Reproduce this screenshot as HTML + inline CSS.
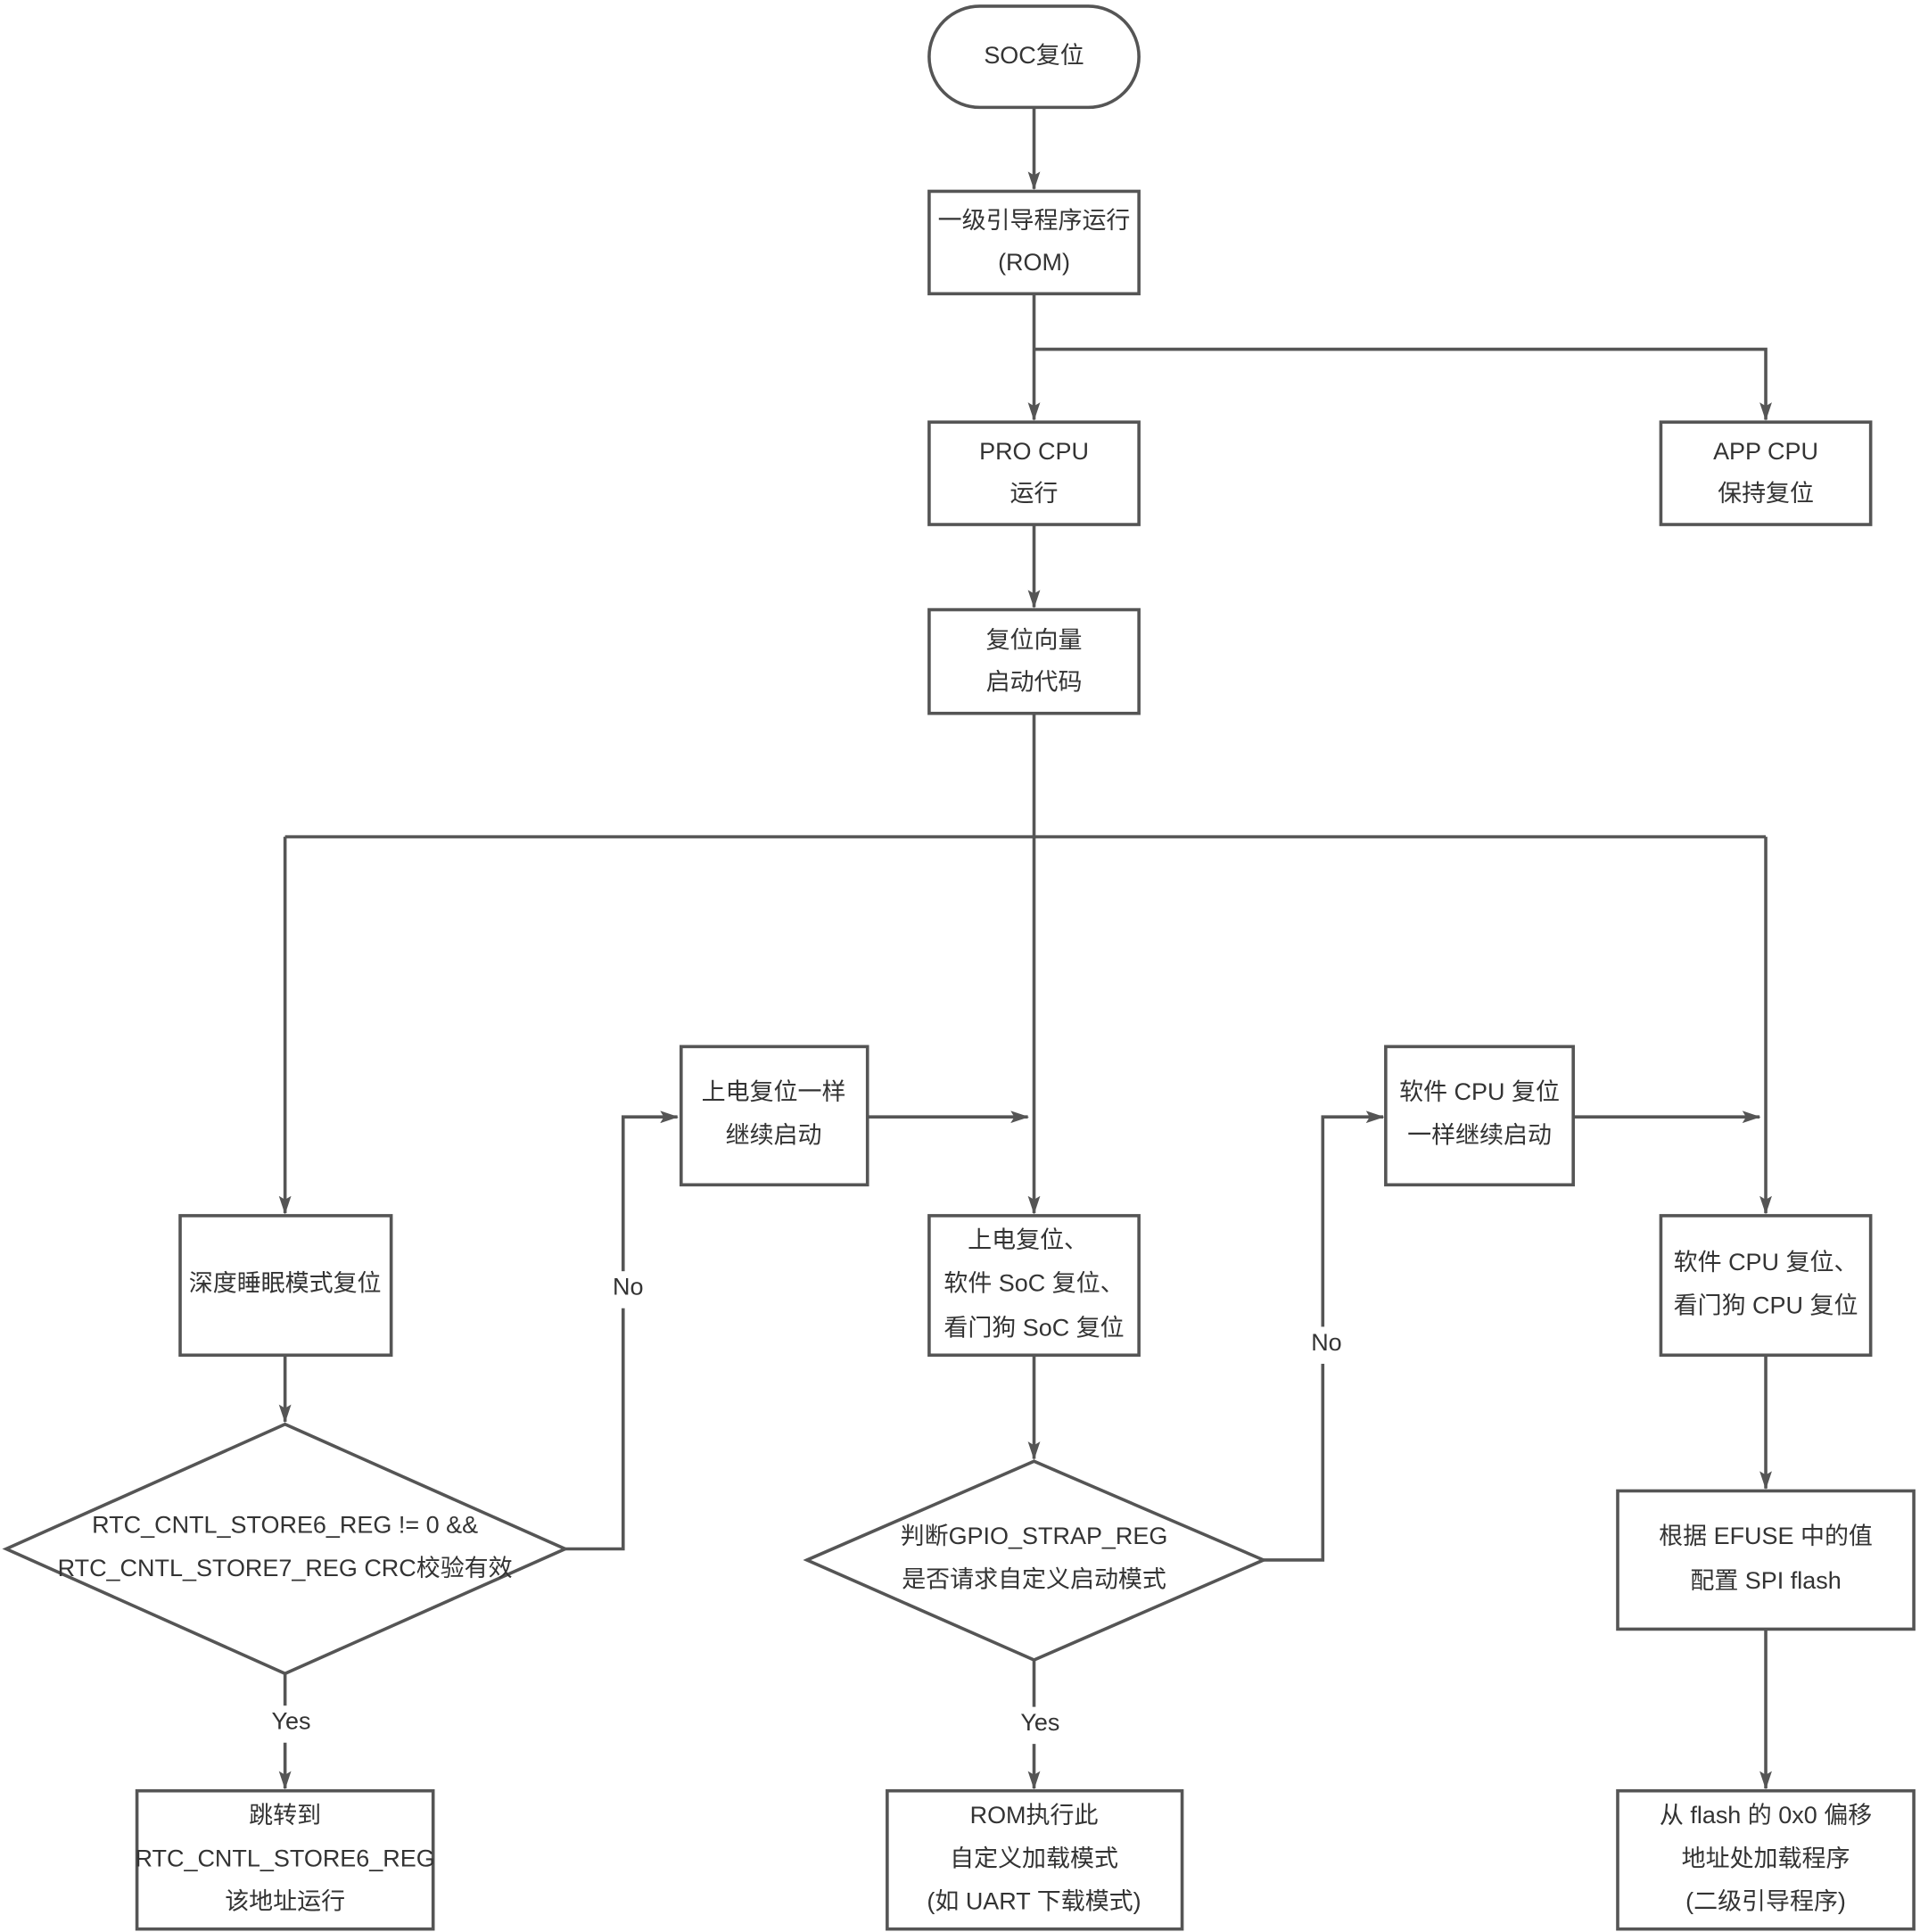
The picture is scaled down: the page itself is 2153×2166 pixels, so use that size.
<!DOCTYPE html>
<html><head><meta charset="utf-8"><style>
html,body{margin:0;padding:0;background:#fff;}
svg{display:block;}
text{font-family:"Liberation Sans","Noto Sans CJK SC",sans-serif;font-size:19.5px;fill:#333;text-anchor:middle;dominant-baseline:middle;}
.s{fill:none;stroke:#555;stroke-width:2.6;}
.b{fill:#fff;stroke:#555;stroke-width:2.6;}
</style></head><body>
<svg width="2153" height="2166" viewBox="0 0 1556 1565.4" xmlns="http://www.w3.org/2000/svg">
<defs><marker id="a" markerWidth="16" markerHeight="12" refX="14" refY="5" orient="auto" markerUnits="userSpaceOnUse"><path d="M0,0 L15,5 L0,10 L3,5 z" fill="#555"/></marker></defs>

<!-- connectors -->
<path class="s" d="M838,87 V153" marker-end="url(#a)"/>
<path class="s" d="M838,238 V340" marker-end="url(#a)"/>
<path class="s" d="M838,283 H1431 V340" marker-end="url(#a)"/>
<path class="s" d="M838,425 V492" marker-end="url(#a)"/>
<path class="s" d="M838,578 V983" marker-end="url(#a)"/>
<path class="s" d="M231,678 H1431"/>
<path class="s" d="M231,678 V983" marker-end="url(#a)"/>
<path class="s" d="M1431,678 V983" marker-end="url(#a)"/>
<path class="s" d="M231,1098 V1152" marker-end="url(#a)"/>
<path class="s" d="M458,1255 H505 V905 H549" marker-end="url(#a)"/>
<path class="s" d="M703,905 H833" marker-end="url(#a)"/>
<path class="s" d="M838,1098 V1182" marker-end="url(#a)"/>
<path class="s" d="M1024,1264 H1072 V905 H1121" marker-end="url(#a)"/>
<path class="s" d="M1275,905 H1426" marker-end="url(#a)"/>
<path class="s" d="M1431,1098 V1206" marker-end="url(#a)"/>
<path class="s" d="M1431,1320 V1449" marker-end="url(#a)"/>
<path class="s" d="M231,1356 V1449" marker-end="url(#a)"/>
<path class="s" d="M838,1345 V1449" marker-end="url(#a)"/>

<!-- label backgrounds -->
<rect x="490" y="1030" width="40" height="30" fill="#fff"/>
<text x="509" y="1044">No</text>
<rect x="1056" y="1075" width="40" height="30" fill="#fff"/>
<text x="1075" y="1089">No</text>
<rect x="215" y="1382" width="40" height="30" fill="#fff"/>
<text x="236" y="1396">Yes</text>
<rect x="822" y="1383" width="40" height="30" fill="#fff"/>
<text x="843" y="1397">Yes</text>

<!-- nodes -->
<rect class="b" x="753" y="5" width="170" height="82" rx="41"/>
<text x="838" y="46">SOC复位</text>

<rect class="b" x="753" y="155" width="170" height="83"/>
<text x="838" y="180">一级引导程序运行</text>
<text x="838" y="214">(ROM)</text>

<rect class="b" x="753" y="342" width="170" height="83"/>
<text x="838" y="367">PRO CPU</text>
<text x="838" y="401">运行</text>

<rect class="b" x="1346" y="342" width="170" height="83"/>
<text x="1431" y="367">APP CPU</text>
<text x="1431" y="401">保持复位</text>

<rect class="b" x="753" y="494" width="170" height="84"/>
<text x="838" y="520">复位向量</text>
<text x="838" y="554">启动代码</text>

<rect class="b" x="146" y="985" width="171" height="113"/>
<text x="231" y="1041">深度睡眠模式复位</text>

<rect class="b" x="552" y="848" width="151" height="112"/>
<text x="627" y="886">上电复位一样</text>
<text x="627" y="921">继续启动</text>

<rect class="b" x="753" y="985" width="170" height="113"/>
<text x="833" y="1006">上电复位、</text>
<text x="838" y="1041">软件 SoC 复位、</text>
<text x="838" y="1077">看门狗 SoC 复位</text>

<rect class="b" x="1123" y="848" width="152" height="112"/>
<text x="1199" y="886">软件 CPU 复位</text>
<text x="1199" y="921">一样继续启动</text>

<rect class="b" x="1346" y="985" width="170" height="113"/>
<text x="1431" y="1024">软件 CPU 复位、</text>
<text x="1431" y="1059">看门狗 CPU 复位</text>

<polygon class="b" points="5,1255 231,1154 458,1255 231,1356"/>
<text x="231" y="1237">RTC_CNTL_STORE6_REG != 0 &amp;&amp;</text>
<text x="231" y="1272">RTC_CNTL_STORE7_REG CRC校验有效</text>

<polygon class="b" points="654,1264 838,1184 1024,1264 838,1345"/>
<text x="838" y="1246">判断GPIO_STRAP_REG</text>
<text x="838" y="1281">是否请求自定义启动模式</text>

<rect class="b" x="1311" y="1208" width="240" height="112"/>
<text x="1431" y="1246">根据 EFUSE 中的值</text>
<text x="1431" y="1282">配置 SPI flash</text>

<rect class="b" x="111" y="1451" width="240" height="112"/>
<text x="231" y="1472">跳转到</text>
<text x="231" y="1507">RTC_CNTL_STORE6_REG</text>
<text x="231" y="1542">该地址运行</text>

<rect class="b" x="719" y="1451" width="239" height="112"/>
<text x="838" y="1472">ROM执行此</text>
<text x="838" y="1507">自定义加载模式</text>
<text x="838" y="1542">(如 UART 下载模式)</text>

<rect class="b" x="1311" y="1451" width="240" height="112"/>
<text x="1431" y="1472">从 flash 的 0x0 偏移</text>
<text x="1431" y="1507">地址处加载程序</text>
<text x="1431" y="1542">(二级引导程序)</text>
</svg>
</body></html>
